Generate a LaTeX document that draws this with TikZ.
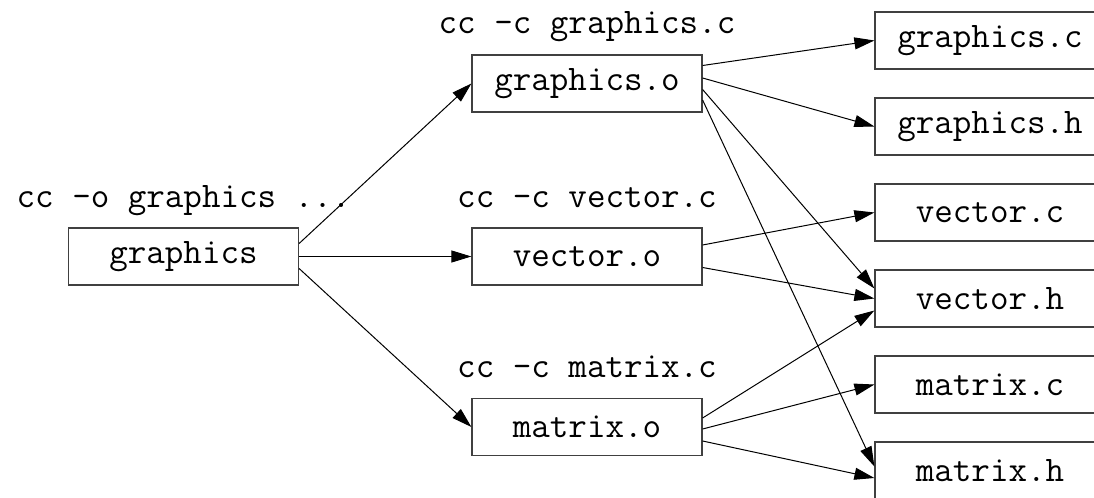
\documentclass[tikz,border=0pt]{standalone}
\usepackage{tikz}
\usetikzlibrary{positioning,arrows.meta}

\begin{document}
\begin{tikzpicture}[
  x=0.5pt,
  y=-0.5pt,
  font=\fontsize{18}{20}\selectfont\ttfamily,
  file/.style={draw=black!75, line width=0.6pt, minimum width=115pt, minimum height=28.5pt, inner sep=0pt},
  cmd/.style={anchor=base, inner sep=0pt},
  dep/.style={-{Triangle[length=10pt,width=6pt]}, line width=0.5pt}
]
\useasboundingbox (0,0) rectangle (1094,498);
\clip (0,0) rectangle (1094,498);
% targets and objects
\node[file] (g) at (183.5,256.5) {graphics};
\node[file] (go) at (587,83.5) {graphics.o};
\node[file] (vo) at (587,256.5) {vector.o};
\node[file] (mo) at (587,427) {matrix.o};
\foreach \n/\y/\txt in {
  gc/40.5/graphics.c,
  gh/126.5/graphics.h,
  vc/212.5/vector.c,
  vh/298.5/vector.h,
  mc/384.5/matrix.c,
  mh/470.5/matrix.h
}{
  \node[file] (\n) at (990,\y) {\txt};
}
% build commands
\node[cmd] (gcmd) at ([yshift=10pt]g.north) {cc -o graphics ...};
\node[cmd] (gocmd) at ([yshift=10.5pt]go.north) {cc -c graphics.c};
\node[cmd] (vocmd) at ([yshift=10pt]vo.north) {cc -c vector.c};
\node[cmd] (mocmd) at ([yshift=10pt]mo.north) {cc -c matrix.c};
% dependencies
\draw[dep] ([yshift=6.5pt]g.east) -- (go.west);
\draw[dep] (g.east) -- (vo.west);
\draw[dep] ([yshift=-6pt]g.east) -- (mo.west);
\draw[dep] ([yshift=9pt]go.east) -- (gc.west);
\draw[dep] ([yshift=2.75pt]go.east) -- (gh.west);
\draw[dep] ([yshift=-3pt]go.east) -- ([yshift=5pt]vh.west);
\draw[dep] ([yshift=-8.25pt]go.east) -- ([yshift=2pt]mh.west);
\draw[dep] ([yshift=5.75pt]vo.east) -- (vc.west);
\draw[dep] ([yshift=-5.5pt]vo.east) -- (vh.west);
\draw[dep] ([yshift=4.5pt]mo.east) -- ([yshift=-6pt]vh.west);
\draw[dep] ([yshift=-1pt]mo.east) -- (mc.west);
\draw[dep] ([yshift=-7pt]mo.east) -- ([yshift=-3.75pt]mh.west);
\end{tikzpicture}
\end{document}
